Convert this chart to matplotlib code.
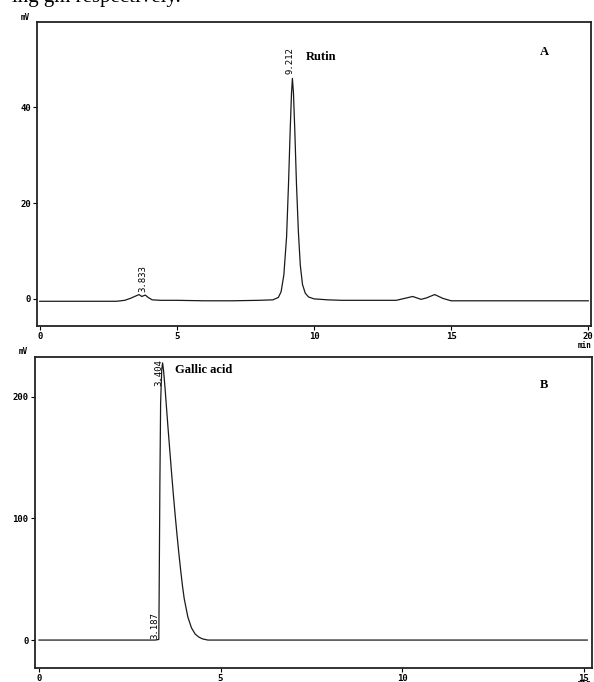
import numpy as np
import matplotlib.pyplot as plt

# chromatogram A (rutin), time in min, signal in mV
time_a = [0, 1, 2, 2.8, 3.1, 3.3, 3.5, 3.62, 3.72, 3.85, 3.95, 4.1, 4.4, 5, 6, 7, 8, 8.5, 8.7,
          8.8, 8.9, 9.0, 9.07, 9.13, 9.18, 9.212, 9.25, 9.3, 9.36, 9.43, 9.5, 9.58, 9.68, 9.8,
          10, 10.5, 11, 12, 13, 13.3, 13.6, 13.9, 14.1, 14.4, 14.7, 15, 17, 20]
signal_a = [-0.5, -0.5, -0.5, -0.5, -0.3, 0.1, 0.6, 0.9, 0.5, 0.8, 0.3, -0.2, -0.3, -0.3, -0.4,
            -0.4, -0.3, -0.2, 0.3, 1.5, 5, 13, 24, 35, 43, 46, 43, 35, 24, 14, 7, 3, 1.2, 0.4,
            0, -0.2, -0.3, -0.3, -0.3, 0.1, 0.5, -0.1, 0.2, 0.9, 0.1, -0.4, -0.4, -0.4]

# chromatogram B (gallic acid)
time_b = [0, 2, 3.2, 3.3, 3.31, 3.33, 3.35, 3.38, 3.404, 3.43, 3.47, 3.5, 3.55, 3.6, 3.65, 3.7,
          3.75, 3.8, 3.85, 3.9, 3.95, 4.0, 4.1, 4.2, 4.3, 4.4, 4.5, 4.65, 5, 10, 15.1]
signal_b = [0, 0, 0, 0.5, 40, 130, 195, 222, 228, 222, 208, 196, 176, 157, 138, 120, 103, 87, 72,
            58, 45, 34, 19, 10, 5, 2.5, 1, 0, 0, 0, 0]

peaks_a = [(3.833, "3.833"), (9.212, "9.212")]
peaks_b = [(3.187, "3.187"), (3.404, "3.404")]

fig = plt.figure(figsize=(5.94, 6.82), dpi=100)
ax1 = fig.add_axes([0.0623, 0.5224, 0.9327, 0.4456])
ax2 = fig.add_axes([0.0589, 0.0205, 0.9377, 0.4556])

lab_font = dict(family='DejaVu Sans Mono', size=6.5)
name_font = dict(family='Liberation Serif', weight='bold', size=9)
small_font = dict(family='DejaVu Sans Mono', weight='bold', size=5.5)

ax1.plot(time_a, signal_a, color='#1a1a1a', lw=0.9)
ax1.set_xlim(-0.1, 20.1)
ax1.set_ylim(-5.6, 57.8)
ax1.set_xticks([0, 5, 10, 15, 20])
ax1.set_yticks([0, 20, 40])

ax2.plot(time_b, signal_b, color='#1a1a1a', lw=0.9)
ax2.set_xlim(-0.11, 15.23)
ax2.set_ylim(-23, 232.6)
ax2.set_xticks([0, 5, 10, 15])
ax2.set_yticks([0, 100, 200])

for ax in (ax1, ax2):
    for s in ax.spines.values():
        s.set_linewidth(1.3)
        s.set_color('#222222')
    ax.tick_params(direction='out', length=3, width=0.8, pad=1.5)
    for t in ax.get_xticklabels() + ax.get_yticklabels():
        t.set_family('DejaVu Sans Mono')
        t.set_weight('bold')
        t.set_fontsize(6.5)

# peak labels
ax1.text(3.75, 1.5, peaks_a[0][1], rotation=90, ha='center', va='bottom', **lab_font)
ax1.text(9.12, 47, peaks_a[1][1], rotation=90, ha='center', va='bottom', **lab_font)
ax2.text(3.2, 1, peaks_b[0][1], rotation=90, ha='center', va='bottom', **lab_font)
ax2.text(3.3, 209, peaks_b[1][1], rotation=90, ha='center', va='bottom', **lab_font)

ax1.text(9.7, 50.5, "Rutin", ha='left', va='center', **name_font)
ax1.text(18.4, 51.5, "A", ha='center', va='center', **name_font)
ax2.text(3.75, 222, "Gallic acid", ha='left', va='center', **name_font)
ax2.text(13.9, 210, "B", ha='center', va='center', **name_font)

fig.text(25 / 594, 1 - 17 / 682, "mV", ha='center', va='center', **small_font)
fig.text(23 / 594, 1 - 352 / 682, "mV", ha='center', va='center', **small_font)
fig.text(585 / 594, 1 - 345 / 682, "min", ha='center', va='center', **small_font)
fig.text(585 / 594, 1 - 684 / 682, "min", ha='center', va='center', **small_font)

fig.text(0.02, 1.003, "ing gm respectively.", ha='left', va='center',
         family='Liberation Serif', size=15)

fig.savefig('out.png', dpi=100)
